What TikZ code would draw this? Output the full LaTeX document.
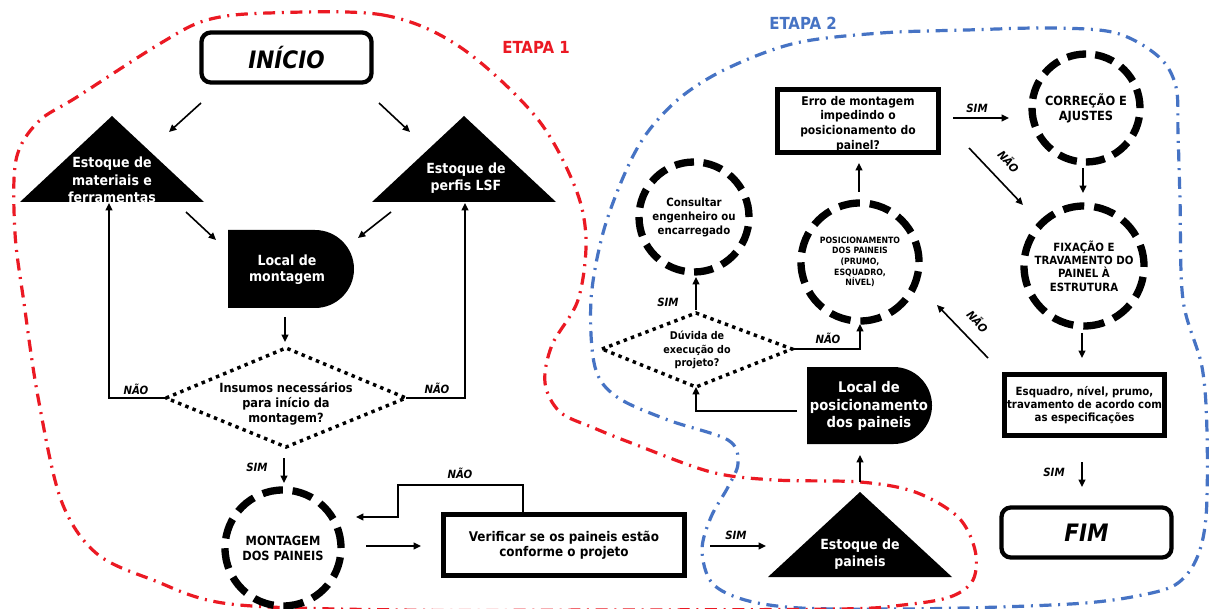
\documentclass[tikz,border=0pt]{standalone}
\usepackage{fontspec}
\setmainfont{DejaVu Sans Condensed}
\usetikzlibrary{arrows.meta}
\definecolor{etred}{RGB}{235,25,35}
\definecolor{etblue}{RGB}{70,115,196}
\tikzset{
  fs/.style 2 args={font=\fontsize{#1}{#2}\selectfont\bfseries},
  lbl/.style={font=\fontsize{8.5}{10}\selectfont\bfseries\itshape, inner sep=0pt},
  arr/.style={-{Triangle[length=5.5pt,width=5pt]}, line width=1.2pt},
  wtxt/.style={text=white, align=center, inner sep=0pt},
  btxt/.style={align=center, inner sep=0pt},
  sqbox/.style={draw, line width=3.8pt, inner sep=0pt},
  rbox/.style={draw, line width=3.2pt, rounded corners=7pt, inner sep=0pt},
  dcirc/.style={circle, draw, line width=5.5pt, inner sep=0pt, align=center},
  dotline/.style={line width=2.6pt, dash pattern=on 2.6pt off 3.2pt},
  etapa/.style={line width=2.4pt, dash pattern=on 9pt off 5pt on 1.5pt off 5pt}
}
\begin{document}
\begin{tikzpicture}[x=0.75pt,y=-0.75pt]
\useasboundingbox (0,0) rectangle (1209,609);
\fill[white] (0,0) rectangle (1209,609);

% stage outlines
\draw[etapa, etblue] plot[smooth cycle, tension=0.55] coordinates {(796,43) (881,33) (967,30) (1052,28) (1116,33) (1159,57) (1176,87) (1178,133) (1180,200) (1183,300) (1202,367) (1207,433) (1206,517) (1196,560) (1175,585) (1137,596) (1085,603) (1000,607) (900,609) (800,608) (745,600) (712,583) (702,550) (711,517) (728,487) (738,463) (728,440) (668,420) (617,397) (595,367) (591,300) (603,233) (625,173) (647,133) (681,97) (728,68)};
\draw[etapa, etred] plot[smooth cycle, tension=0.55] coordinates {(268,13) (383,15) (460,47) (536,117) (575,187) (586,240) (578,300) (552,345) (545,383) (560,412) (594,428) (634,444) (711,472) (775,480) (860,482) (915,492) (958,517) (975,550) (973,580) (950,597) (903,605) (839,609) (600,610) (400,610) (230,604) (153,580) (96,553) (61,500) (38,397) (24,303) (15,233) (16,160) (38,122) (77,97) (161,43) (207,20)};

\node[fs={12.5}{15}, text=etred] (et1) at (536,47) {ETAPA 1};
\node[fs={12.5}{15}, text=etblue] (et2) at (803,23) {ETAPA 2};

% ---------- ETAPA 1 ----------
\node[rbox, minimum width=127.5pt, minimum height=37.5pt, font=\fontsize{18}{20}\selectfont\bfseries\itshape] (ini) at (286.5,57.5) {INÍCIO};

\fill (20,202) -- (112,116) -- (204,202) -- cycle;
\node[wtxt, fs={10.5}{13}] (tri1) at (112,180) {Estoque de\\materiais e\\ferramentas};
\fill (372,202) -- (464,116) -- (556,202) -- cycle;
\node[wtxt, fs={10.5}{13}] (tri2) at (466,178) {Estoque de\\perfis LSF};

\fill (228,230) -- (315,230) .. controls (336.5,230) and (354,247.5) .. (354,269) .. controls (354,290.5) and (336.5,308) .. (315,308) -- (228,308) -- cycle;
\node[wtxt, fs={10.5}{12}] (locm) at (287,270) {Local de\\montagem};

\coordinate (d1W) at (166,398); \coordinate (d1N) at (286,348);
\coordinate (d1E) at (406,398); \coordinate (d1S) at (286,447);
\draw[dotline] (d1W) -- (d1N) -- (d1E) -- (d1S) -- cycle;
\node[btxt, fs={9.5}{11.25}] (d1) at (286,404) {Insumos necessários\\para início da\\montagem?};

\node[dcirc, minimum size=87pt, dash pattern=on 15.5pt off 7.3pt, fs={9.5}{11.25}] (mont) at (283,548) {MONTAGEM\\DOS PAINEIS};

\node[sqbox, minimum width=180.75pt, minimum height=45.75pt, btxt, fs={10}{11.25}] (verif) at (564,545) {Verificar se os paineis estão\\conforme o projeto};

% arrows etapa 1
\coordinate (a1s) at (201,103); \coordinate (a1e) at (169,132);
\coordinate (a2s) at (379,103); \coordinate (a2e) at (410,132);
\coordinate (a3s) at (186,212); \coordinate (a3e) at (216,240);
\coordinate (a4s) at (391,212); \coordinate (a4e) at (358,238);
\coordinate (a5s) at (285,317); \coordinate (a5e) at (285,342);
\coordinate (t1b) at (109,203); \coordinate (t2b) at (465,203);
\coordinate (a8s) at (284,458); \coordinate (a8e) at (284,483);
\coordinate (a9s) at (366,546); \coordinate (a9e) at (421,546);
\coordinate (vT) at (523,512); \coordinate (mE) at (356,517);
\draw[arr] (a1s) -- (a1e);
\draw[arr] (a2s) -- (a2e);
\draw[arr] (a3s) -- (a3e);
\draw[arr] (a4s) -- (a4e);
\draw[arr] (a5s) -- (a5e);
\draw[arr] (d1W) -| (t1b);
\draw[arr] (d1E) -| (t2b);
\draw[arr] (a8s) -- (a8e);
\draw[arr] (a9s) -- (a9e);
\draw[arr] (vT) -- (523,485) -- (398,485) -- (398,517) -- (mE);
\node[lbl] (n1) at (136,389) {NÃO};
\node[lbl] (n2) at (437,388) {NÃO};
\node[lbl] (s1) at (257,467) {SIM};
\node[lbl] (n3) at (460,473) {NÃO};

% ---------- ETAPA 2 ----------
\fill (768,577) -- (860,492) -- (952,577) -- cycle;
\node[wtxt, fs={10.5}{13}] (tri3) at (860,554) {Estoque de\\paineis};

\fill (807,367) -- (893.5,367) .. controls (914.8,367) and (932,384.2) .. (932,405.5) .. controls (932,426.8) and (914.8,444) .. (893.5,444) -- (807,444) -- cycle;
\node[wtxt, fs={11}{13}] (locp) at (869,406) {Local de\\posicionamento\\dos paineis};

\coordinate (d2W) at (602,349); \coordinate (d2N) at (696,313);
\coordinate (d2E) at (792,349); \coordinate (d2S) at (696,387);
\draw[dotline] (d2W) -- (d2N) -- (d2E) -- (d2S) -- cycle;
\node[btxt, fs={8}{10}] (d2) at (697,350) {Dúvida de\\execução do\\projeto?};

\node[dcirc, minimum size=82.5pt, dash pattern=on 14.5pt off 7.1pt, fs={8.5}{10.5}] (cons) at (694,217) {Consultar\\engenheiro ou\\encarregado};
\node[dcirc, minimum size=88.5pt, dash pattern=on 15.8pt off 7.4pt, fs={6.5}{8}] (posc) at (860,262) {POSICIONAMENTO\\DOS PAINEIS\\(PRUMO,\\ESQUADRO,\\NÍVEL)};
\node[dcirc, minimum size=81pt, dash pattern=on 14.3pt off 6.9pt, fs={9.5}{11.25}] (corr) at (1086,108) {CORREÇÃO E\\AJUSTES};
\node[dcirc, minimum size=90pt, dash pattern=on 16pt off 7.5pt, fs={8.5}{10}] (fixa) at (1084,266) {FIXAÇÃO E\\TRAVAMENTO DO\\PAINEL À\\ESTRUTURA};

\node[btxt, fs={9}{11}] (errot) at (858,124) {Erro de montagem\\impedindo o\\posicionamento do\\painel?};
\node[sqbox, minimum width=120.75pt, minimum height=47.25pt] (erro) at (858,121) {};

\node[sqbox, minimum width=120pt, minimum height=45.75pt, btxt, fs={8.5}{10}] (esq) at (1084.5,405) {Esquadro, nível, prumo,\\travamento de acordo com\\as especificações};

\node[rbox, minimum width=127.5pt, minimum height=37.5pt, font=\fontsize{18}{20}\selectfont\bfseries\itshape] (fim) at (1086.5,532.5) {FIM};

% arrows etapa 2
\coordinate (b1s) at (710,546); \coordinate (b1e) at (766,546);
\coordinate (b2s) at (860,482); \coordinate (b2e) at (860,455);
\coordinate (b3s) at (797,411);
\coordinate (b4s) at (696,310); \coordinate (b4e) at (696,277);
\coordinate (b5e) at (860,324);
\coordinate (b6s) at (859,192); \coordinate (b6e) at (859,163);
\coordinate (b7s) at (953,118); \coordinate (b7e) at (1009,118);
\coordinate (b8s) at (969,148); \coordinate (b8e) at (1023,205);
\coordinate (b9s) at (1083,168); \coordinate (b9e) at (1083,193);
\coordinate (b10s) at (1082,333); \coordinate (b10e) at (1082,358);
\coordinate (b11s) at (988,358); \coordinate (b11e) at (937,305);
\coordinate (b12s) at (1082,462); \coordinate (b12e) at (1082,487);
\draw[arr] (b1s) -- (b1e);
\draw[arr] (b2s) -- (b2e);
\draw[arr] (b3s) -| (d2S);
\draw[arr] (b4s) -- (b4e);
\draw[arr] (d2E) -| (b5e);
\draw[arr] (b6s) -- (b6e);
\draw[arr] (b7s) -- (b7e);
\draw[arr] (b8s) -- (b8e);
\draw[arr] (b9s) -- (b9e);
\draw[arr] (b10s) -- (b10e);
\draw[arr] (b11s) -- (b11e);
\draw[arr] (b12s) -- (b12e);
\node[lbl] (s2) at (736,535) {SIM};
\node[lbl] (s3) at (668,302) {SIM};
\node[lbl] (n4) at (828,338) {NÃO};
\node[lbl] (s4) at (977,108) {SIM};
\node[lbl, rotate=-48] (n5) at (1009,161) {NÃO};
\node[lbl, rotate=-48] (n6) at (978,321) {NÃO};
\node[lbl] (s5) at (1054,472) {SIM};
\end{tikzpicture}
\end{document}
